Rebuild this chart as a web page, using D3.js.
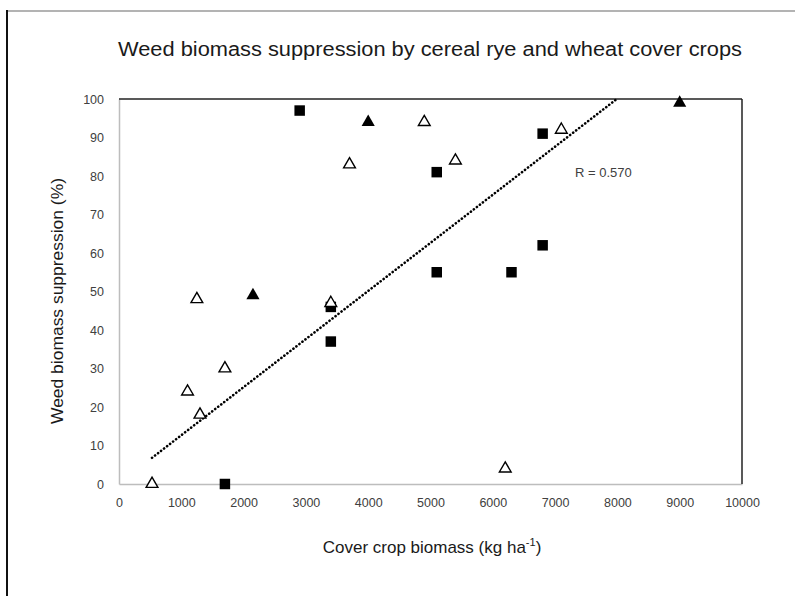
<html>
<head>
<script src="https://d3js.org/d3.v7.min.js"></script>
<style>
  body { margin: 0; background: #fff; }
  svg { font-family: "Liberation Sans", Arial, sans-serif; }
</style>
</head>
<body>
<svg id="chart"></svg>
<script>
// datos (kg/ha, % supresion)
var squareX = [2900, 1700, 3400, 3400, 5100, 5100, 6300, 6800, 6800];
var squareY = [97, 0, 46, 37, 81, 55, 55, 62, 91];
var filledTriX = [2150, 4000, 9000];
var filledTriY = [49, 94, 99];
var openTriX = [530, 1100, 1300, 1250, 1700, 3400, 3700, 4900, 5400, 7100, 6200];
var openTriY = [0, 24, 18, 48, 30, 47, 83, 94, 84, 92, 4];
// linea de tendencia (extremos)
var trendX = [530, 7990];
var trendY = [6.8, 100];
var xTicks = [0, 1000, 2000, 3000, 4000, 5000, 6000, 7000, 8000, 9000, 10000];
var yTicks = [0, 10, 20, 30, 40, 50, 60, 70, 80, 90, 100];

var W = 795, H = 596;
var svg = d3.select("#chart").attr("width", W).attr("height", H);

// marco exterior
svg.append("rect")
  .attr("x", 7).attr("y", 11).attr("width", W + 20).attr("height", H + 20)
  .attr("fill", "#fff").attr("stroke", "#9a9a9a").attr("stroke-width", 1.5);
svg.append("line")
  .attr("x1", 7).attr("y1", 10).attr("x2", 7).attr("y2", H)
  .attr("stroke", "#111").attr("stroke-width", 2);

var x = d3.scaleLinear().domain([0, 10000]).range([119, 742]);
var y = d3.scaleLinear().domain([0, 100]).range([484, 99]);

// ejes
var xAxis = svg.append("g").attr("transform", "translate(0," + y(0) + ")")
  .call(d3.axisBottom(x).tickValues(xTicks).tickSize(0).tickPadding(14).tickFormat(d3.format("d")));
var yAxis = svg.append("g").attr("transform", "translate(" + x(0) + ",0)")
  .call(d3.axisLeft(y).tickValues(yTicks).tickSize(0).tickPadding(15));
[xAxis, yAxis].forEach(function(a) {
  a.select(".domain").attr("stroke", "#bdbdbd").attr("stroke-width", 1.5);
  a.selectAll("text").attr("font-size", 12.5).attr("fill", "#404040")
    .attr("font-family", "'Liberation Sans', Arial, sans-serif");
});

// borde arriba y derecha del area
svg.append("line").attr("x1", x(0)).attr("x2", x(10000)).attr("y1", y(100)).attr("y2", y(100))
  .attr("stroke", "#222").attr("stroke-width", 1.5);
svg.append("line").attr("x1", x(10000)).attr("x2", x(10000)).attr("y1", y(100)).attr("y2", y(0))
  .attr("stroke", "#222").attr("stroke-width", 1.5);

// tendencia punteada
svg.append("line")
  .attr("x1", x(trendX[0])).attr("y1", y(trendY[0]))
  .attr("x2", x(trendX[1])).attr("y2", y(trendY[1]))
  .attr("stroke", "#000").attr("stroke-width", 2.6)
  .attr("stroke-dasharray", "0.1 3.7").attr("stroke-linecap", "round");

var tri = d3.symbol().type(d3.symbolTriangle).size(60);
var sq = d3.symbol().type(d3.symbolSquare).size(110);

function pts(xs, ys) { return xs.map(function(v, i) { return {x: v, y: ys[i]}; }); }

svg.selectAll(".sq").data(pts(squareX, squareY)).enter()
  .append("path").attr("class", "sq").attr("d", sq)
  .attr("transform", function(d) { return "translate(" + x(d.x) + "," + y(d.y) + ")"; })
  .attr("fill", "#000");

svg.selectAll(".otri").data(pts(openTriX, openTriY)).enter()
  .append("path").attr("class", "otri").attr("d", tri)
  .attr("transform", function(d) { return "translate(" + x(d.x) + "," + y(d.y) + ")"; })
  .attr("fill", "#fff").attr("stroke", "#000").attr("stroke-width", 1.4);

svg.selectAll(".ftri").data(pts(filledTriX, filledTriY)).enter()
  .append("path").attr("class", "ftri").attr("d", d3.symbol().type(d3.symbolTriangle).size(75))
  .attr("transform", function(d) { return "translate(" + x(d.x) + "," + y(d.y) + ")"; })
  .attr("fill", "#000");

// textos
svg.append("text").attr("x", 430).attr("y", 56).attr("text-anchor", "middle")
  .attr("font-size", 20).attr("fill", "#1a1a1a")
  .attr("textLength", 624).attr("lengthAdjust", "spacingAndGlyphs")
  .text("Weed biomass suppression by cereal rye and wheat cover crops");

svg.append("text").attr("transform", "translate(63,301) rotate(-90)").attr("text-anchor", "middle")
  .attr("font-size", 17).attr("fill", "#1a1a1a")
  .attr("textLength", 246).attr("lengthAdjust", "spacingAndGlyphs")
  .text("Weed biomass suppression (%)");

var xl = svg.append("text").attr("x", 432).attr("y", 553).attr("text-anchor", "middle")
  .attr("font-size", 17).attr("fill", "#1a1a1a");
xl.append("tspan").text("Cover crop biomass (kg ha");
xl.append("tspan").attr("dy", -7).attr("font-size", 11).text("-1");
xl.append("tspan").attr("dy", 7).text(")");

svg.append("text").attr("x", 575).attr("y", 177)
  .attr("font-size", 13).attr("fill", "#404040").text("R = 0.570");
</script>
</body>
</html>
